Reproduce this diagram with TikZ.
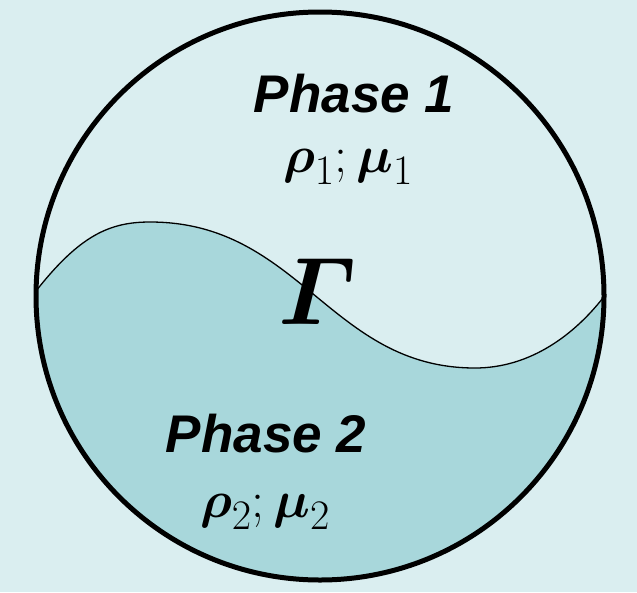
\documentclass[tikz,border=0pt]{standalone}
\usepackage{fix-cm}
\usepackage{fontspec,amsmath,amssymb}
\newfontfamily\arialfont{Liberation Sans}
\DeclareMathSizes{52}{52}{42}{32}
\usetikzlibrary{positioning}
\definecolor{bgcyan}{RGB}{218,238,240}
\definecolor{phasetwo}{RGB}{168,215,219}

\begin{document}
\begin{tikzpicture}[x=1pt,y=-1pt,line width=.5pt]
\path[use as bounding box,fill=bgcyan] (0,0) rectangle (637,592);
\begin{scope}
\clip (320,296) circle (284);
\fill[phasetwo] (36,291) .. controls (80,235) and (110,222) .. (150,222) .. controls (300,222) and (330,368) .. (475,368) .. controls (530,368) and (575,335) .. (606,294) -- (620,600) -- (20,600) -- cycle;
\end{scope}
\draw[line width=1.3pt] (36,291) .. controls (80,235) and (110,222) .. (150,222) .. controls (300,222) and (330,368) .. (475,368) .. controls (530,368) and (575,335) .. (606,294);
\draw[line width=5pt] (320,296) circle (284);
\node[inner sep=0pt,font=\arialfont\bfseries\itshape\fontsize{53}{60}\selectfont] (ph1) at (354,94) {Phase 1};
\node[inner sep=0pt,font=\fontsize{52}{56}\selectfont] (prop1) at (348,167) {$\boldsymbol{\rho}_1;\boldsymbol{\mu}_1$};
\node[inner sep=0pt,font=\arialfont\bfseries\itshape\fontsize{53}{60}\selectfont] (ph2) at (266,434) {Phase 2};
\node[inner sep=0pt,font=\fontsize{52}{56}\selectfont] (prop2) at (265,512) {$\boldsymbol{\rho}_2;\boldsymbol{\mu}_2$};
\node[inner sep=0pt,font=\fontsize{96}{100}\selectfont] (gam) at (318,292) {$\boldsymbol{\varGamma}$};
\end{tikzpicture}
\end{document}
